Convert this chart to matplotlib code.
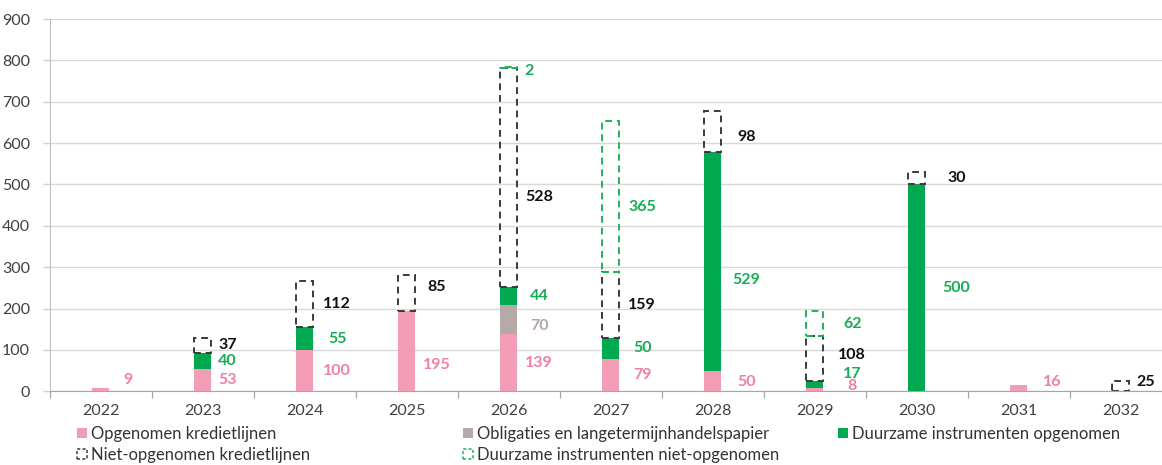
import matplotlib.pyplot as plt
from matplotlib.patches import Patch
import numpy as np

plt.rcParams['font.family'] = ['Lato', 'DejaVu Sans']

years = ['2022', '2023', '2024', '2025', '2026', '2027', '2028', '2029', '2030', '2031', '2032']
opgenomen = [9, 53, 100, 195, 139, 79, 50, 8, 0, 16, 0]           # Opgenomen kredietlijnen
obligaties = [0, 0, 0, 0, 70, 0, 0, 0, 0, 0, 0]                   # Obligaties en langetermijnhandelspapier
duurzaam_opg = [0, 40, 55, 0, 44, 50, 529, 17, 500, 0, 0]         # Duurzame instrumenten opgenomen
niet_opg = [0, 37, 112, 85, 528, 159, 98, 108, 30, 0, 25]         # Niet-opgenomen kredietlijnen
duurzaam_niet_opg = [0, 0, 0, 0, 2, 365, 0, 62, 0, 0, 0]          # Duurzame instrumenten niet-opgenomen

PINK = '#f29cb6'
GREY = '#b5aaa8'
GREEN = '#00a84f'
DARK = '#3a3a3a'
PINK_TXT = '#ef7fa7'
GREEN_TXT = '#17ad55'
GREY_TXT = '#b2a8a6'

fig = plt.figure(figsize=(11.62, 4.65), dpi=100)
ax = fig.add_axes([0.0426, 0.1585, 0.9656, 0.8006])

x = np.arange(len(years))
w = 0.174

series = [
    (opgenomen, dict(color=PINK), PINK_TXT),
    (obligaties, dict(color=GREY), GREY_TXT),
    (duurzaam_opg, dict(color=GREEN), GREEN_TXT),
    (niet_opg, dict(fill=False, edgecolor=DARK, linestyle=(0, (3.5, 2.5)), linewidth=1.4), '#111111'),
    (duurzaam_niet_opg, dict(fill=False, edgecolor='#1fb359', linestyle=(0, (3.5, 2.5)), linewidth=1.4), GREEN_TXT),
]

# horizontal offset of the value labels, per year (category units)
lab_dx = [0.27, 0.245, 0.32, 0.30, 0.30, 0.31, 0.33, 0.37, 0.39, 0.33, 0.25]
# hand-placed label heights where the segment midpoint is crowded or too small
lab_y = {(0, 0): 28, (3, 0): 63, (3, 3): 252, (4, 1): 158, (4, 3): 469, (4, 4): 775,
         (5, 4): 446, (6, 0): 22, (6, 2): 268, (6, 3): 614, (7, 0): 14, (7, 2): 43,
         (7, 3): 87, (7, 4): 162, (9, 0): 22, (10, 3): 22}
lab_dx_fix = {(4, 4): 0.2}

bottom = np.zeros(len(years))
for si, (vals, style, tcol) in enumerate(series):
    vals = np.array(vals, dtype=float)
    mask = vals > 0
    ax.bar(x[mask], vals[mask], w, bottom=bottom[mask], zorder=3, **style)
    for i in np.where(mask)[0]:
        ly = lab_y.get((i, si), bottom[i] + vals[i] / 2)
        lx = x[i] + lab_dx_fix.get((i, si), lab_dx[i])
        ax.text(lx, ly, f'{int(vals[i])}', ha='center', va='center',
                fontsize=11.5, fontweight='bold', color=tcol, zorder=4)
    bottom += vals

ax.set_xlim(-0.5, len(years) - 0.5)
ax.set_ylim(0, 900)
ax.set_yticks(np.arange(0, 901, 100))
ax.set_xticks(x)
ax.set_xticklabels(years)
ax.set_xticks(np.arange(-0.5, len(years), 1), minor=True)
ax.tick_params(axis='x', which='major', length=0, pad=9, labelsize=11.5, labelcolor='#404040')
ax.tick_params(axis='x', which='minor', length=5, color='#a6a6a6', width=0.9)
ax.tick_params(axis='y', length=5, color='#d0d0d0', width=1, pad=9, labelsize=11.5, labelcolor='#404040')

ax.grid(axis='y', color='#d9d9d9', linewidth=1, zorder=0)
ax.set_axisbelow(True)
for s in ['top', 'right']:
    ax.spines[s].set_visible(False)
ax.spines['left'].set_color('#bfbfbf')
ax.spines['bottom'].set_color('#a6a6a6')

h_opg = Patch(facecolor=PINK, edgecolor='none')
h_obl = Patch(facecolor=GREY, edgecolor='none')
h_do = Patch(facecolor=GREEN, edgecolor='none')
h_no = Patch(fill=False, edgecolor=DARK, linestyle=(0, (2, 1.5)), linewidth=1.1)
h_dno = Patch(fill=False, edgecolor='#1fb359', linestyle=(0, (2, 1.5)), linewidth=1.1)

leg_kw = dict(frameon=False, fontsize=12, handlelength=0.6, handleheight=0.6,
              handletextpad=0.25, labelspacing=0.28, borderpad=0, borderaxespad=0,
              loc='upper left', labelcolor='#333333')
columns = [
    ([h_opg, h_no], ['Opgenomen kredietlijnen', 'Niet-opgenomen kredietlijnen'], 77),
    ([h_obl, h_dno], ['Obligaties en langetermijnhandelspapier', 'Duurzame instrumenten niet-opgenomen'], 463),
    ([h_do], ['Duurzame instrumenten opgenomen'], 838),
]
for handles, labels, px in columns:
    fig.legend(handles, labels, bbox_to_anchor=(px / 1162, 1 - 426 / 465), **leg_kw)

fig.savefig('out.png', dpi=100)
